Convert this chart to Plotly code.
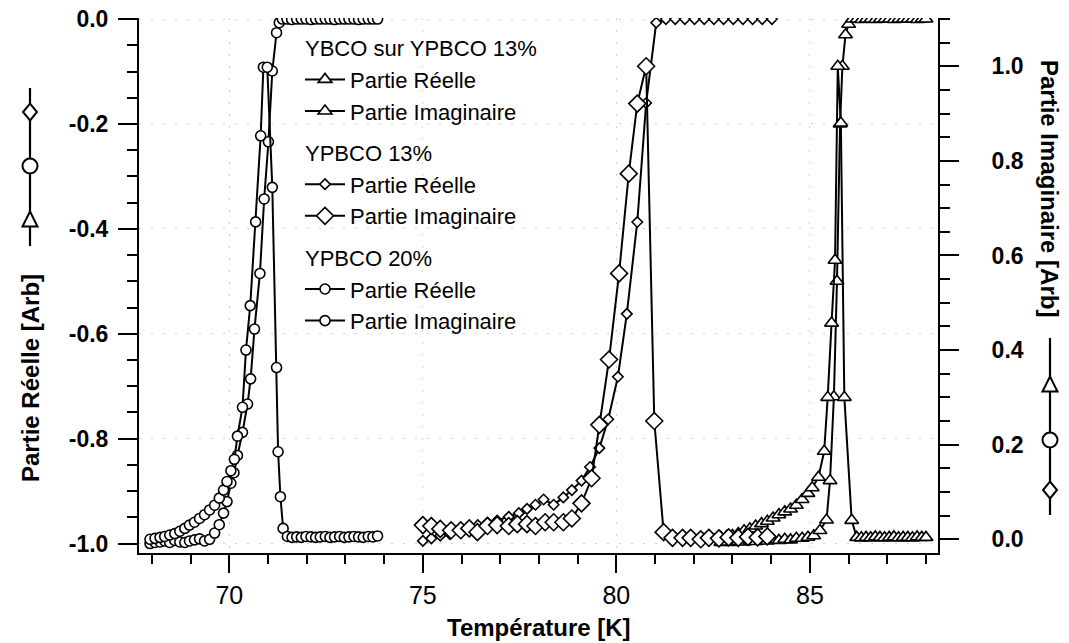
import plotly.graph_objects as go

# ---------------- data ----------------
# YBCO sur YPBCO 13% (triangles)
t_re_T = [82.70, 82.85, 83.00, 83.15, 83.30, 83.45, 83.60, 83.75, 83.90, 84.05,
          84.20, 84.35, 84.50, 84.65, 84.80, 84.95, 85.10, 85.26, 85.43, 85.52,
          85.62, 85.70, 85.78, 85.84, 85.92, 86.00, 86.10, 86.22, 86.34, 86.46,
          86.58, 86.70, 86.82, 86.94, 87.06, 87.18, 87.30, 87.42, 87.54, 87.66,
          87.78, 87.90, 88.00]
t_re_v = [-0.998, -0.997, -0.998, -0.996, -0.997, -0.995, -0.996, -0.994, -0.995, -0.993,
          -0.994, -0.992, -0.993, -0.990, -0.990, -0.988, -0.985, -0.975, -0.955, -0.880,
          -0.720, -0.500, -0.200, -0.090, -0.030, -0.010, 0.000, 0.000, -0.001, 0.000,
          0.000, -0.001, 0.000, 0.000, 0.000, -0.001, 0.000, 0.000, 0.000, 0.000,
          -0.001, 0.000, 0.000]
t_im_T = [82.70, 82.85, 83.00, 83.15, 83.30, 83.45, 83.60, 83.75, 83.90, 84.05,
          84.20, 84.35, 84.50, 84.65, 84.80, 84.95, 85.06, 85.22, 85.37, 85.46,
          85.56, 85.65, 85.72, 85.80, 85.89, 86.08, 86.21, 86.33, 86.45, 86.57,
          86.69, 86.81, 86.93, 87.05, 87.17, 87.29, 87.41, 87.53, 87.65, 87.77,
          87.89, 88.00]
t_im_v = [0.004, 0.006, 0.008, 0.012, 0.018, 0.022, 0.028, 0.033, 0.038, 0.045,
          0.052, 0.058, 0.064, 0.072, 0.084, 0.097, 0.109, 0.131, 0.186, 0.300,
          0.457, 0.590, 1.000, 0.880, 0.300, 0.040, 0.004, 0.003, 0.004, 0.003,
          0.005, 0.004, 0.003, 0.004, 0.005, 0.003, 0.004, 0.004, 0.003, 0.005,
          0.004, 0.004]

# YPBCO 13% (diamonds)
d_re_T = [75.00, 75.22, 75.45, 75.70, 75.95, 76.20, 76.42, 76.67, 76.92, 77.22,
          77.48, 77.69, 77.91, 78.12, 78.38, 78.63, 78.85, 79.10, 79.32, 79.56,
          79.79, 80.04, 80.27, 80.54, 80.77, 81.03, 81.28, 81.52, 81.77, 82.02,
          82.27, 82.52, 82.77, 83.02, 83.27, 83.52, 83.77, 84.02]
d_re_v = [-0.995, -0.990, -0.985, -0.982, -0.975, -0.970, -0.965, -0.960, -0.956, -0.949,
          -0.942, -0.934, -0.926, -0.916, -0.926, -0.912, -0.898, -0.880, -0.854, -0.818,
          -0.763, -0.682, -0.562, -0.387, -0.160, -0.007, 0.000, 0.000, 0.000, 0.000,
          0.000, 0.000, 0.000, 0.000, 0.000, 0.000, 0.000, 0.000]
d_im_T = [75.00, 75.22, 75.45, 75.73, 75.98, 76.20, 76.41, 76.67, 76.92, 77.22,
          77.44, 77.69, 77.91, 78.16, 78.38, 78.63, 78.85, 79.10, 79.36, 79.56,
          79.81, 80.07, 80.32, 80.54, 80.77, 80.98, 81.22, 81.45, 81.71, 81.92,
          82.18, 82.39, 82.65, 82.90, 83.15, 83.40, 83.65, 83.90]
d_im_v = [0.030, 0.028, 0.022, 0.019, 0.019, 0.023, 0.015, 0.028, 0.030, 0.028,
          0.032, 0.032, 0.028, 0.036, 0.036, 0.036, 0.044, 0.076, 0.129, 0.242,
          0.380, 0.562, 0.773, 0.921, 1.000, 0.250, 0.015, 0.003, 0.003, 0.003,
          0.000, 0.003, 0.002, 0.004, 0.003, 0.005, 0.004, 0.006]

# YPBCO 20% (circles)
c_re_T = [67.95, 68.08, 68.21, 68.33, 68.46, 68.59, 68.72, 68.85, 68.97, 69.10,
          69.23, 69.36, 69.49, 69.62, 69.74, 69.85, 69.94, 70.04, 70.12, 70.21,
          70.34, 70.47, 70.55, 70.65, 70.79, 70.90, 71.01, 71.11, 71.22, 71.29,
          71.37, 71.49, 71.61, 71.74, 71.86, 71.98, 72.11, 72.23, 72.35, 72.48,
          72.60, 72.72, 72.85, 72.97, 73.09, 73.22, 73.34, 73.46, 73.59, 73.71,
          73.83]
c_re_v = [-1.000, -0.998, -0.997, -0.995, -0.998, -0.994, -0.997, -0.998, -0.995, -0.993,
          -0.991, -0.995, -0.992, -0.980, -0.964, -0.942, -0.920, -0.885, -0.865, -0.832,
          -0.788, -0.734, -0.686, -0.591, -0.485, -0.343, -0.234, -0.099, -0.026, -0.007,
          0.000, 0.000, -0.001, 0.000, 0.000, 0.000, -0.001, 0.000, 0.000, 0.000,
          0.000, -0.001, 0.000, 0.000, 0.000, 0.000, -0.001, 0.000, 0.000, 0.000,
          0.000]
c_im_T = [67.95, 68.08, 68.21, 68.33, 68.46, 68.59, 68.72, 68.85, 68.97, 69.10,
          69.23, 69.36, 69.49, 69.62, 69.74, 69.85, 69.94, 70.04, 70.13, 70.21,
          70.34, 70.43, 70.54, 70.68, 70.81, 70.88, 70.98, 71.11, 71.22, 71.26,
          71.32, 71.39, 71.50, 71.62, 71.74, 71.86, 71.98, 72.11, 72.23, 72.35,
          72.48, 72.60, 72.72, 72.85, 72.97, 73.09, 73.22, 73.34, 73.46, 73.59,
          73.71, 73.83]
c_im_v = [0.000, 0.002, 0.004, 0.006, 0.009, 0.012, 0.017, 0.023, 0.030, 0.036,
          0.044, 0.052, 0.062, 0.072, 0.087, 0.104, 0.122, 0.145, 0.169, 0.218,
          0.279, 0.400, 0.494, 0.671, 0.853, 0.998, 0.998, 0.744, 0.363, 0.185,
          0.090, 0.023, 0.006, 0.004, 0.005, 0.004, 0.006, 0.005, 0.004, 0.005,
          0.006, 0.004, 0.005, 0.006, 0.004, 0.005, 0.006, 0.005, 0.004, 0.006,
          0.005, 0.007]

x_ticks = [70, 75, 80, 85]
x_ticktext = ["70", "75", "80", "85"]
yl_ticks = [0.0, -0.2, -0.4, -0.6, -0.8, -1.0]
yl_ticktext = ["0.0", "-0.2", "-0.4", "-0.6", "-0.8", "-1.0"]
yr_ticks = [0.0, 0.2, 0.4, 0.6, 0.8, 1.0]
yr_ticktext = ["0.0", "0.2", "0.4", "0.6", "0.8", "1.0"]

# ---------------- layout helpers ----------------
W, H = 1069, 643
L, R, T, B = 139, 938, 18, 553
FONT = "Liberation Sans, Arial, sans-serif"
NARROW = "Liberation Sans Narrow, Arial Narrow, Liberation Sans, sans-serif"


def pxx(x):
    return (x - L) / (R - L)


def pxy(y):
    return 1 - (y - T) / (B - T)


fig = go.Figure()

line_style = dict(color="black", width=2)


def add(xs, ys, name, group, gtitle, symbol, size, yaxis):
    fig.add_trace(go.Scatter(
        x=xs, y=ys, mode="lines+markers", name=name,
        legendgroup=group, legendgrouptitle_text=gtitle,
        line=line_style, yaxis=yaxis,
        marker=dict(symbol=symbol, size=size, color="white",
                    line=dict(color="black", width=1.6)),
    ))


add(t_re_T, t_re_v, "Partie Réelle", "t", "YBCO sur YPBCO 13%", "triangle-up", 12, "y")
add(t_im_T, t_im_v, "Partie Imaginaire", "t", "YBCO sur YPBCO 13%", "triangle-up", 12, "y2")
add(d_re_T, d_re_v, "Partie Réelle", "d", "YPBCO 13%", "diamond", 8, "y")
add(d_im_T, d_im_v, "Partie Imaginaire", "d", "YPBCO 13%", "diamond", 13, "y2")
add(c_re_T, c_re_v, "Partie Réelle", "c", "YPBCO 20%", "circle", 10, "y")
add(c_im_T, c_im_v, "Partie Imaginaire", "c", "YPBCO 20%", "circle", 10, "y2")

grid_style = dict(showgrid=True, gridcolor="#d2d2d2", gridwidth=1, griddash="2px,10px")

fig.update_layout(
    width=W, height=H,
    margin=dict(l=L, r=W - R, t=T, b=H - B, autoexpand=False),
    paper_bgcolor="white", plot_bgcolor="white",
    font=dict(family=FONT, color="black"),
    showlegend=True,
    legend=dict(
        x=pxx(300), y=pxy(27), xanchor="left", yanchor="top",
        bgcolor="rgba(0,0,0,0)", borderwidth=0,
        font=dict(family=FONT, size=22, color="black"),
        grouptitlefont=dict(family=FONT, size=22, color="black"),
        tracegroupgap=10, itemwidth=40,
    ),
    xaxis=dict(
        range=[67.666, 88.31], showline=True, linecolor="black", linewidth=2,
        mirror=False, zeroline=False,
        tickvals=x_ticks, ticktext=x_ticktext,
        tickfont=dict(family=NARROW, size=25, color="black"),
        ticks="outside", ticklen=18, tickwidth=2, tickcolor="black",
        ticklabelstandoff=1,
        minor=dict(dtick=1, tick0=0, ticks="outside", ticklen=9, tickwidth=2,
                   tickcolor="black", showgrid=False),
        **grid_style,
    ),
    yaxis=dict(
        range=[-1.018, 0.002], showline=True, linecolor="black", linewidth=2,
        zeroline=False,
        tickvals=yl_ticks, ticktext=yl_ticktext,
        tickfont=dict(family=FONT, size=23, color="black", weight="bold"),
        ticks="outside", ticklen=19, tickwidth=2, tickcolor="black",
        ticklabelstandoff=5,
        minor=dict(dtick=0.05, tick0=0, ticks="outside", ticklen=10, tickwidth=2,
                   tickcolor="black", showgrid=False),
        **grid_style,
    ),
    yaxis2=dict(
        range=[-0.029, 1.102], overlaying="y", side="right",
        showline=True, linecolor="black", linewidth=2, zeroline=False, showgrid=False,
        tickvals=yr_ticks, ticktext=yr_ticktext,
        tickfont=dict(family=FONT, size=23, color="black", weight="bold"),
        ticks="outside", ticklen=19, tickwidth=2, tickcolor="black",
        ticklabelstandoff=28,
        minor=dict(dtick=0.05, tick0=0, ticks="outside", ticklen=10, tickwidth=2,
                   tickcolor="black", showgrid=False),
    ),
)

title_font = dict(family=FONT, size=24, color="black", weight="bold")
fig.add_annotation(text="Température [K]", xref="paper", yref="paper",
                   x=pxx(539), y=pxy(627), showarrow=False, font=title_font,
                   xanchor="center", yanchor="middle")
fig.add_annotation(text="Partie Réelle [Arb]", xref="paper", yref="paper",
                   x=pxx(30), y=pxy(378), showarrow=False, font=title_font,
                   textangle=-90, xanchor="center", yanchor="middle")
fig.add_annotation(text="Partie Imaginaire [Arb]", xref="paper", yref="paper",
                   x=pxx(1050), y=pxy(188), showarrow=False, font=title_font,
                   textangle=90, xanchor="center", yanchor="middle")

# symbol keys beside the axis titles
shapes = []


def key_line(xc, y0, y1):
    shapes.append(dict(type="line", xref="paper", yref="paper",
                       x0=pxx(xc), x1=pxx(xc), y0=pxy(y0), y1=pxy(y1),
                       line=dict(color="black", width=2.2), layer="above"))


def key_symbol(kind, xc, yc):
    base = dict(xref="paper", yref="paper", xsizemode="pixel", ysizemode="pixel",
                xanchor=pxx(xc), yanchor=pxy(yc), fillcolor="white",
                line=dict(color="black", width=2), layer="above")
    if kind == "circle":
        shapes.append(dict(type="circle", x0=-7.5, x1=7.5, y0=-7.5, y1=7.5, **base))
    elif kind == "triangle":
        shapes.append(dict(type="path", path="M -7.5,-6.5 L 7.5,-6.5 L 0,8.5 Z", **base))
    else:
        shapes.append(dict(type="path", path="M 0,-8.5 L 7,0 L 0,8.5 L -7,0 Z", **base))


key_line(30, 88, 246)
key_symbol("diamond", 30, 112)
key_symbol("circle", 30, 166)
key_symbol("triangle", 30, 220)

key_line(1050, 338, 515)
key_symbol("triangle", 1050, 385)
key_symbol("circle", 1050, 440)
key_symbol("diamond", 1050, 490)

fig.update_layout(shapes=shapes)

fig.write_html("out.html")
